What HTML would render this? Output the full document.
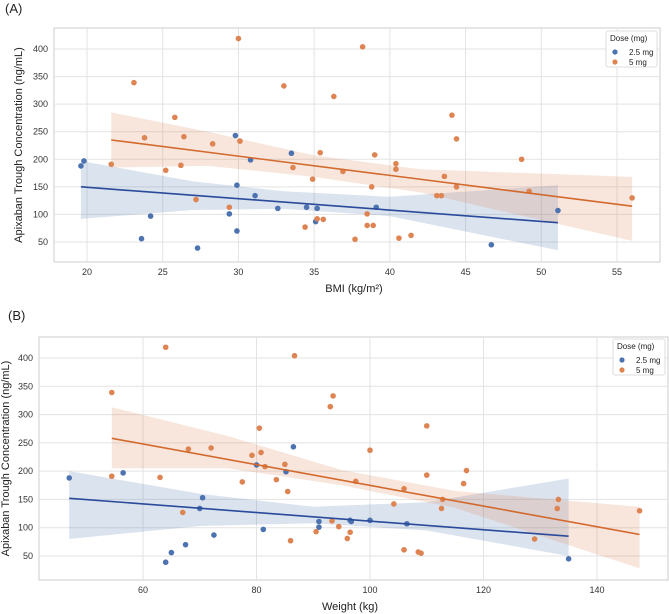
<!DOCTYPE html>
<html><head><meta charset="utf-8"><style>
body{margin:0;background:#fff;font-family:"Liberation Sans","DejaVu Sans",sans-serif}
svg{display:block}
</style></head><body>
<svg id="c" width="669" height="614"></svg>
<script>
// ---- Panel A data (BMI) ----
const aBlueX=[19.6,19.8,23.6,24.2,27.3,29.4,29.8,29.9,29.9,30.8,31.1,32.6,33.5,34.5,35.1,35.2,39.1,46.7,51.1];
const aBlueY=[188,197,56,97,39,101,243,153,70,199,134,111,211,113,87,111,113,45,107];
const aOrX=[21.6,23.1,23.8,25.2,25.8,26.2,26.4,27.2,28.3,29.4,30,30.1,33,33.6,34.4,34.9,35.2,35.4,35.6,36.3,36.9,37.7,38.2,38.5,38.5,38.8,38.9,39,40.4,40.4,40.6,41.4,43.1,43.4,43.6,44.1,44.4,44.4,48.7,49.2,56];
const aOrY=[191,339,239,180,276,189,241,127,228,113,419,233,333,185,77,164,92,212,91,314,178,55,404,101,80,150,80,208,192,182,57,62,134,134,169,280,237,150,200,142,130];
const aBlueLineX=[19.6,51.1], aBlueLineY=[150,85];
const aOrLineX=[21.6,56], aOrLineY=[235,115];
const aBlueBandX=[19.6,27,33,40,51.1], aBlueBandLo=[92,108,110,97,35], aBlueBandHi=[197,160,142,132,153];
const aOrBandX=[21.6,28,35,42,56], aOrBandLo=[185,188,168,140,52], aOrBandHi=[285,250,207,182,168];
const aXTicks=[20,25,30,35,40,45,50,55];
const yTicks=[50,100,150,200,250,300,350,400];
// ---- Panel B data (Weight) ----
const bBlueX=[47,56.5,64,65,67.5,70,70.5,72.5,80,81.2,85.2,86.5,91,91,96.5,96.7,100,106.5,135];
const bBlueY=[188,197,39,56,70,134,153,87,211,97,199,243,111,101,113,111,113,107,45];
const bOrX=[54.5,54.5,63,64,67,68,72,77.5,79.2,80.5,80.8,81.5,83.5,85,85.5,86,86.7,90.5,93,93.3,93.5,94.5,96,96.5,97.5,100,104.2,106,106,108.5,109,110,110,112.6,112.8,116.5,117,129,133,133.2,147.5];
const bOrY=[339,191,189,419,127,239,241,181,228,276,233,208,185,212,164,77,404,93,314,112,333,102,81,92,182,237,142,61,169,57,55,280,193,134,150,178,201,80,134,150,130];
const bBlueLineX=[47,135], bBlueLineY=[152,85];
const bOrLineX=[54.5,147.5], bOrLineY=[258,88];
const bBlueBandX=[47,70,90,110,135], bBlueBandLo=[80,103,108,95,50], bBlueBandHi=[200,160,137,145,187];
const bOrBandX=[54.5,75,95,115,147.5], bOrBandLo=[205,205,175,135,28], bOrBandHi=[313,262,202,165,137];
const bXTicks=[60,80,100,120,140];

const NS="http://www.w3.org/2000/svg";
const svg=document.getElementById('c');
function mk(tag,attrs,parent){const e=document.createElementNS(NS,tag);for(const k in attrs)e.setAttribute(k,attrs[k]);(parent||svg).appendChild(e);return e;}
const BLUE="#4c72b0", OR="#dd8452", BLUEL="#2a4a9a", ORL="#d2692d";

function panel(p){
  const g=mk('g',{});
  
  
  const xs=v=>p.x0+(v-p.xv0)*(p.x1-p.x0)/(p.xv1-p.xv0);
  const ys=v=>p.y400+(400-v)*(p.y50-p.y400)/350;
  const lab=mk('text',{x:p.labX,y:p.labY,'font-size':13,fill:'#222'},g);lab.textContent=p.label;
  
  const fr=mk('rect',{x:p.fx0,y:p.fy0,width:p.fx1-p.fx0,height:p.fy1-p.fy0,fill:'#fff',stroke:'#ccc','stroke-width':1},g);
  
  p.xt.forEach(t=>{const X=xs(t);
    const l=mk('line',{x1:X,x2:X,y1:p.fy0,y2:p.fy1,stroke:'#e3e3e3'},g);
    
    const tx=mk('text',{x:X,y:p.fy1+13,'font-size':9,fill:'#333','text-anchor':'middle'},g);tx.textContent=t;
    });
  yTicks.forEach(t=>{const Y=ys(t);
    const l=mk('line',{x1:p.fx0,x2:p.fx1,y1:Y,y2:Y,stroke:'#e3e3e3'},g);
    
    const tx=mk('text',{x:p.fx0-6,y:Y+3,'font-size':9,fill:'#333','text-anchor':'end'},g);tx.textContent=t;
    });
  function band(bx,lo,hi,col,nm){
    let d='M'+bx.map((v,i)=>xs(v)+','+ys(hi[i])).join(' L');
    d+=' L'+bx.slice().reverse().map((v,i)=>xs(v)+','+ys(lo[lo.length-1-i])).join(' L')+'Z';
    const e=mk('path',{d:d,fill:col,'fill-opacity':0.2,stroke:'none'},g);
    }
  band(p.bb[0],p.bb[1],p.bb[2],BLUE,'ci-band-2-5mg');
  band(p.ob[0],p.ob[1],p.ob[2],OR,'ci-band-5mg');
  function pts(X,Y,col,nm){X.forEach((v,i)=>{const c=mk('circle',{cx:xs(v),cy:ys(Y[i]),r:2.8,fill:col},g);
    });}
  pts(p.bx,p.by,BLUE,'point-2-5mg');
  pts(p.ox,p.oy,OR,'point-5mg');
  function line(X,Y,col,nm){const e=mk('line',{x1:xs(X[0]),y1:ys(Y[0]),x2:xs(X[1]),y2:ys(Y[1]),stroke:col,'stroke-width':1.6},g);
    }
  line(p.bl[0],p.bl[1],BLUEL,'fit-line-2-5mg');
  line(p.ol[0],p.ol[1],ORL,'fit-line-5mg');
  const xl=mk('text',{x:p.xlX,y:p.xlY,'font-size':11,fill:'#222','text-anchor':'middle'},g);xl.textContent=p.xlabel;
  
  const yc=(p.fy0+p.fy1)/2;
  const yl=mk('text',{x:p.ylX,y:yc,'font-size':11,fill:'#222','text-anchor':'middle',transform:`rotate(-90 ${p.ylX} ${yc})`},g);yl.textContent='Apixaban Trough Concentration (ng/mL)';
  
  const lg=mk('g',{},g);
  mk('rect',{x:p.lgX,y:p.lgY,width:p.fx1-p.lgX-3,height:36,fill:'#fff',stroke:'#ddd',rx:2},lg);
  const t0=mk('text',{x:p.lgX+4,y:p.lgY+10,'font-size':8,fill:'#222'},lg);t0.textContent='Dose (mg)';
  const e1=mk('circle',{cx:p.lgX+9,cy:p.lgY+21,r:2.6,fill:BLUE},lg);
  
  const t1=mk('text',{x:p.lgX+23,y:p.lgY+24,'font-size':8,fill:'#222'},lg);t1.textContent='2.5 mg';
  const e2=mk('circle',{cx:p.lgX+9,cy:p.lgY+31,r:2.6,fill:OR},lg);
  
  const t2=mk('text',{x:p.lgX+23,y:p.lgY+34,'font-size':8,fill:'#222'},lg);t2.textContent='5 mg';
}
panel({name:'panel-a-bmi',label:'(A)',labX:5,labY:13,fx0:54,fx1:660,fy0:28,fy1:262,
  x0:87,x1:617,xv0:20,xv1:55,y400:49,y50:242,xt:aXTicks,
  bx:aBlueX,by:aBlueY,ox:aOrX,oy:aOrY,bl:[aBlueLineX,aBlueLineY],ol:[aOrLineX,aOrLineY],
  bb:[aBlueBandX,aBlueBandLo,aBlueBandHi],ob:[aOrBandX,aOrBandLo,aOrBandHi],
  xlabel:'BMI (kg/m²)',xlX:354,xlY:292,ylX:22,lgX:606,lgY:31});
panel({name:'panel-b-weight',label:'(B)',labX:8,labY:320,fx0:39,fx1:668,fy0:337,fy1:580,
  x0:143,x1:597,xv0:60,xv1:140,y400:358,y50:556,xt:bXTicks,
  bx:bBlueX,by:bBlueY,ox:bOrX,oy:bOrY,bl:[bBlueLineX,bBlueLineY],ol:[bOrLineX,bOrLineY],
  bb:[bBlueBandX,bBlueBandLo,bBlueBandHi],ob:[bOrBandX,bOrBandLo,bOrBandHi],
  xlabel:'Weight (kg)',xlX:350,xlY:610,ylX:9,lgX:613,lgY:339});
</script>
</body></html>
